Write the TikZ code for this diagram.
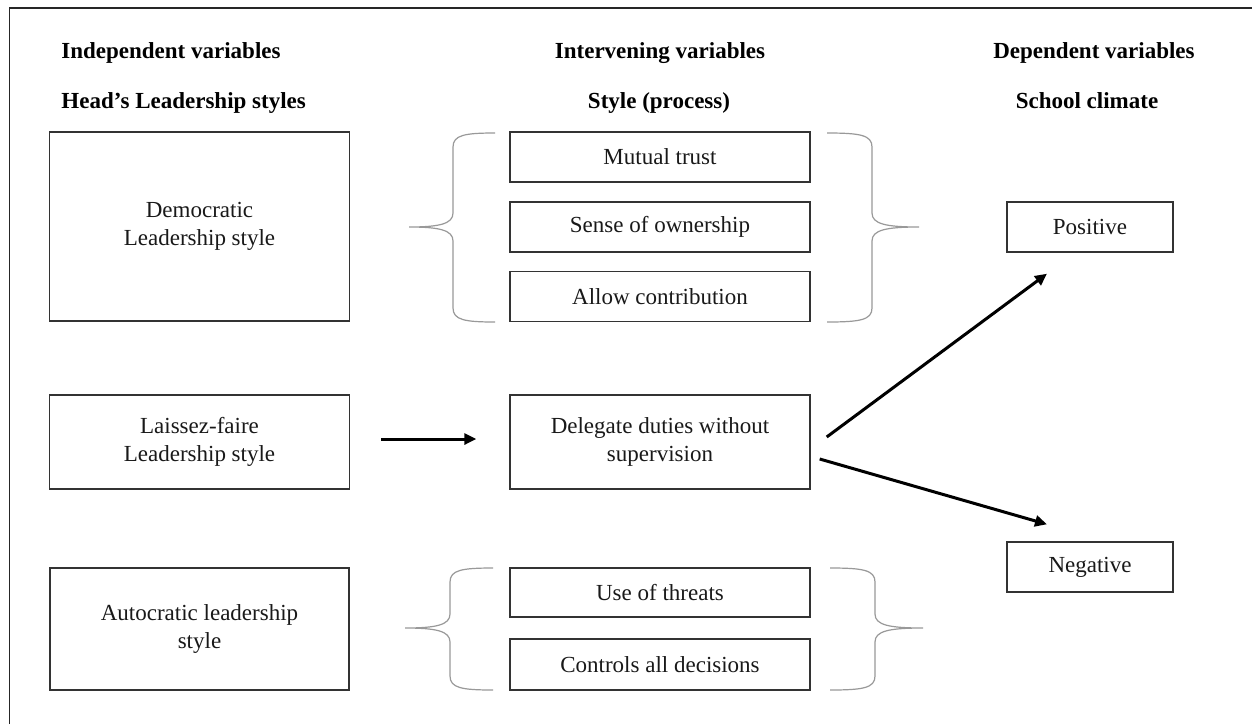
\documentclass[tikz,border=0pt]{standalone}
\usepackage{fontspec}
\setmainfont{Liberation Serif}
\usetikzlibrary{arrows.meta,calc}
% left brace: #1 tip x, #2 vertical x, #3 end x, #4 top y, #5 middle y, #6 bottom y
\newcommand\BraceLeft[6]{%
  \draw[bracestyle] (#3,#4) .. controls (#2+12,#4) and (#2,#4+2) .. (#2,#4+14)
    -- (#2,#5-14) .. controls (#2,#5-3) and (#2-14,#5) .. (#1,#5)
    .. controls (#2-14,#5) and (#2,#5+3) .. (#2,#5+14)
    -- (#2,#6-14) .. controls (#2,#6-2) and (#2+12,#6) .. (#3,#6);}
\newcommand\BraceRight[6]{%
  \draw[bracestyle] (#3,#4) .. controls (#2-12,#4) and (#2,#4+2) .. (#2,#4+14)
    -- (#2,#5-14) .. controls (#2,#5-3) and (#2+14,#5) .. (#1,#5)
    .. controls (#2+14,#5) and (#2,#5+3) .. (#2,#5+14)
    -- (#2,#6-14) .. controls (#2,#6-2) and (#2-12,#6) .. (#3,#6);}
\begin{document}
\begin{tikzpicture}[x=0.5pt,y=-0.5pt,
  box/.style={draw=black!80,line width=0.7pt,inner sep=0pt,align=center,
    font=\fontsize{11.5}{14}\selectfont,text=black!90},
  head/.style={font=\fontsize{11.5}{14}\selectfont\bfseries,inner sep=0pt,text=black},
  bracestyle/.style={draw=black!40,line width=0.6pt},
  arr/.style={draw=black,line width=1.5pt,-{Triangle[length=6pt,width=5.5pt]}}]
\useasboundingbox (0,0) rectangle (1252,724);
\fill[white] (0,0) rectangle (1252,724);
\draw[line width=0.75pt,black!85] (9.5,724) -- (9.5,8) -- (1252,8);

% headings
\node[head,anchor=base west] (h1a) at (61,58) {Independent variables};
\node[head,anchor=base west] (h1b) at (61,108) {Head’s Leadership styles};
\node[head,anchor=base] (h2a) at (660,58) {Intervening variables};
\node[head,anchor=base] (h2b) at (659,108) {Style (process)};
\node[head,anchor=base] (h3a) at (1094,58) {Dependent variables};
\node[head,anchor=base] (h3b) at (1087,108) {School climate};

% left column
\node[box,minimum width=150pt,minimum height=94.5pt] (dem) at (199.5,226.5) {Democratic\\Leadership style};
\node[box,minimum width=150pt,minimum height=47pt] (lai) at (199.5,442) {Laissez-faire\\Leadership style};
\node[box,minimum width=149.5pt,minimum height=61pt] (aut) at (199.5,629) {Autocratic leadership\\style};

% middle column
\node[box,minimum width=150pt,minimum height=25pt] (mt) at (660,157) {Mutual trust};
\node[box,minimum width=150pt,minimum height=25pt] (so) at (660,227) {Sense of ownership};
\node[box,minimum width=150pt,minimum height=25pt] (ac) at (660,296.5) {Allow contribution};
\node[box,minimum width=150pt,minimum height=47pt] (del) at (660,442) {Delegate duties without\\supervision};
\node[box,minimum width=150pt,minimum height=24.5pt] (ut) at (660,592.5) {Use of threats};
\node[box,minimum width=150pt,minimum height=25.5pt] (cd) at (660,664.5) {Controls all decisions};

% right column
\node[box,minimum width=83pt,minimum height=25pt] (pos) at (1090,227) {Positive};
\node[box,minimum width=83pt,minimum height=25pt] (neg) at (1090,567) {Negative};

% braces
\BraceLeft{409}{453}{495}{133}{227}{322}
\BraceRight{919}{872}{827}{133}{227}{322}
\BraceLeft{405}{450}{493}{568}{628}{690}
\BraceRight{923}{875}{830}{568}{628}{690}

% arrows
\draw[arr] ($(lai.east)+(31,-3)$) -- ($(del.west)+(-33,-3)$);
\draw[arr] ($(del.east)+(16,-5)$) -- ($(pos.south)+(-43,21)$);
\draw[arr] ($(del.east)+(9,17)$) -- ($(neg.north)+(-43,-17)$);
\end{tikzpicture}
\end{document}
